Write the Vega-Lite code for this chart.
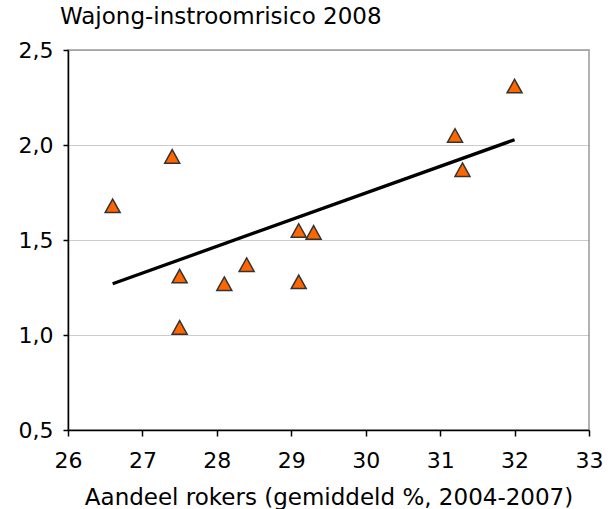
{
  "$schema": "https://vega.github.io/schema/vega-lite/v6.json",
  "width": 521,
  "height": 380,
  "autosize": {"type": "none"},
  "padding": {"left": 68, "top": 50, "right": 22, "bottom": 79},
  "title": {
    "text": "Wajong-instroomrisico 2008",
    "anchor": "start",
    "frame": "group",
    "dx": -8,
    "offset": 10,
    "font": "DejaVu Sans",
    "fontSize": 23,
    "fontWeight": "normal",
    "color": "#000000"
  },
  "config": {
    "font": "DejaVu Sans",
    "view": {"stroke": "#999999", "strokeWidth": 1.5}
  },
  "data": {
    "values": [
      {"x": 26.6, "y": 1.68},
      {"x": 27.4, "y": 1.94},
      {"x": 27.5, "y": 1.31},
      {"x": 27.5, "y": 1.04},
      {"x": 28.1, "y": 1.27},
      {"x": 28.4, "y": 1.37},
      {"x": 29.1, "y": 1.28},
      {"x": 29.1, "y": 1.55},
      {"x": 29.3, "y": 1.54},
      {"x": 31.2, "y": 2.05},
      {"x": 31.3, "y": 1.87},
      {"x": 32.0, "y": 2.31}
    ]
  },
  "encoding": {
    "x": {
      "field": "x",
      "type": "quantitative",
      "scale": {"domain": [26, 33], "nice": false, "zero": false},
      "axis": {
        "values": [26, 27, 28, 29, 30, 31, 32, 33],
        "title": "Aandeel rokers (gemiddeld %, 2004-2007)",
        "grid": false,
        "domainColor": "#000000",
        "domainWidth": 1.5,
        "tickColor": "#000000",
        "tickWidth": 1.5,
        "tickSize": 6,
        "labelFontSize": 22,
        "labelColor": "#000000",
        "labelPadding": 14,
        "labelFlush": false,
        "labelOverlap": false,
        "labelBound": false,
        "titleFontSize": 23,
        "titleFontWeight": "normal",
        "titleColor": "#000000",
        "titlePadding": 15
      }
    },
    "y": {
      "field": "y",
      "type": "quantitative",
      "scale": {"domain": [0.5, 2.5], "nice": false, "zero": false},
      "axis": {
        "values": [0.5, 1, 1.5, 2, 2.5],
        "title": null,
        "labelExpr": "replace(format(datum.value, '.1f'), '.', ',')",
        "grid": true,
        "gridColor": "#999999",
        "gridDash": [1, 1],
        "gridWidth": 1,
        "domainColor": "#000000",
        "domainWidth": 1.5,
        "tickColor": "#000000",
        "tickWidth": 1.5,
        "tickSize": 5,
        "labelFontSize": 22,
        "labelColor": "#000000",
        "labelPadding": 10,
        "labelFlush": false,
        "labelOverlap": false,
        "labelBound": false
      }
    }
  },
  "layer": [
    {
      "mark": {
        "type": "point",
        "shape": "M0,-0.9L1,0.9L-1,0.9Z",
        "filled": true,
        "fill": "#FF6600",
        "stroke": "#333333",
        "strokeWidth": 1.5,
        "size": 225,
        "opacity": 1
      }
    },
    {
      "transform": [{"regression": "y", "on": "x"}],
      "mark": {"type": "line", "color": "#000000", "strokeWidth": 3.3}
    }
  ]
}
